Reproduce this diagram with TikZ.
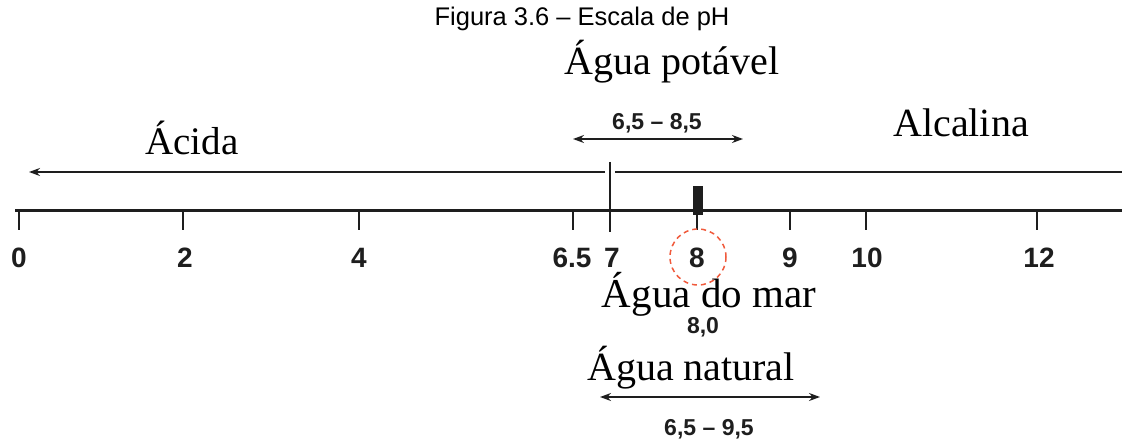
\documentclass[tikz,border=0pt]{standalone}
\usepackage{fontspec}
\setmainfont{Liberation Serif}
\setsansfont{Liberation Sans}
\usetikzlibrary{arrows.meta}
\definecolor{circred}{RGB}{240,90,60}
\definecolor{ink}{RGB}{30,30,30}
\begin{document}
\begin{tikzpicture}[x=1pt,y=-1pt,
  bigtxt/.style={anchor=base,inner sep=0pt,font=\fontsize{40}{48}\selectfont},
  numlab/.style={anchor=base,inner sep=0pt,font=\sffamily\bfseries\fontsize{28}{32}\selectfont,text=ink},
  rangelab/.style={anchor=base,inner sep=0pt,font=\sffamily\bfseries\fontsize{23}{28}\selectfont,text=ink},
  axisline/.style={line width=3pt,draw=ink},
  tickmark/.style={line width=2pt,draw=ink},
  tip/.style={-{Stealth[length=11pt,width=8pt]}},
  dtip/.style={{Stealth[length=11pt,width=8pt]}-{Stealth[length=11pt,width=8pt]}}
]
\useasboundingbox (0,0) rectangle (1122,441);
% title
\node[anchor=base,inner sep=0pt,font=\sffamily\fontsize{25.5}{30}\selectfont] (title) at (582,26) {Figura 3.6 – Escala de pH};
% big labels
\node[bigtxt] (potavel) at (672,75) {Água potável};
\node[bigtxt,font=\fontsize{39}{46}\selectfont] (acida) at (192,155) {Ácida};
\node[bigtxt] (alcalina) at (961,137) {Alcalina};
\node[bigtxt,font=\fontsize{41}{48}\selectfont] (mar) at (709,307) {Água do mar};
\node[bigtxt] (natural) at (691,380) {Água natural};
% range labels
\node[rangelab] (r1) at (657,130) {6,5 – 8,5};
\node[rangelab] (r2) at (709,435) {6,5 – 9,5};
\node[rangelab] (r3) at (703,333) {8,0};
% coordinates
\coordinate (axL) at (15,210);
\coordinate (axR) at (1122,210);
\coordinate (upL) at (29,172);
\coordinate (upG1) at (605,172);
\coordinate (upG2) at (615,172);
\coordinate (upR) at (1122,172);
\coordinate (vT) at (610,162);
\coordinate (vB) at (610,232);
\coordinate (pa) at (573,139);
\coordinate (pb) at (743,139);
\coordinate (na) at (600,397);
\coordinate (nb) at (820,397);
% axis
\draw[axisline] (axL) -- (axR);
\draw[line width=2.8pt,draw=ink,tip] (upG1) -- (upL);
\draw[line width=2.8pt,draw=ink] (upG2) -- (upR);
\draw[line width=1.6pt,draw=ink] (vT) -- (vB);
% ticks and labels
\foreach \x/\lab/\lx/\n in {19/0/19/t0,183/2/185/t2,359/4/359/t4,573/6.5/572/t65,697/8/697/t8,790/9/790/t9,866/10/867/t10,1037/12/1039/t12}{
  \coordinate (\n) at (\x,230);
  \draw[tickmark] (\x,210) -- (\n);
  \node[numlab] (l\n) at (\lx,267) {\lab};
}
\node[numlab] (l7) at (612,267) {7};
% marker at 8
\fill[ink] (693,186) rectangle (703,215);
% red dashed circle
\draw[circred,dashed,line width=1.5pt,dash pattern=on 5pt off 4pt] (698,257) circle[radius=28];
% range arrows
\draw[line width=1.5pt,draw=ink,dtip] (pa) -- (pb);
\draw[line width=1.8pt,draw=ink,dtip] (na) -- (nb);
\end{tikzpicture}
\end{document}
